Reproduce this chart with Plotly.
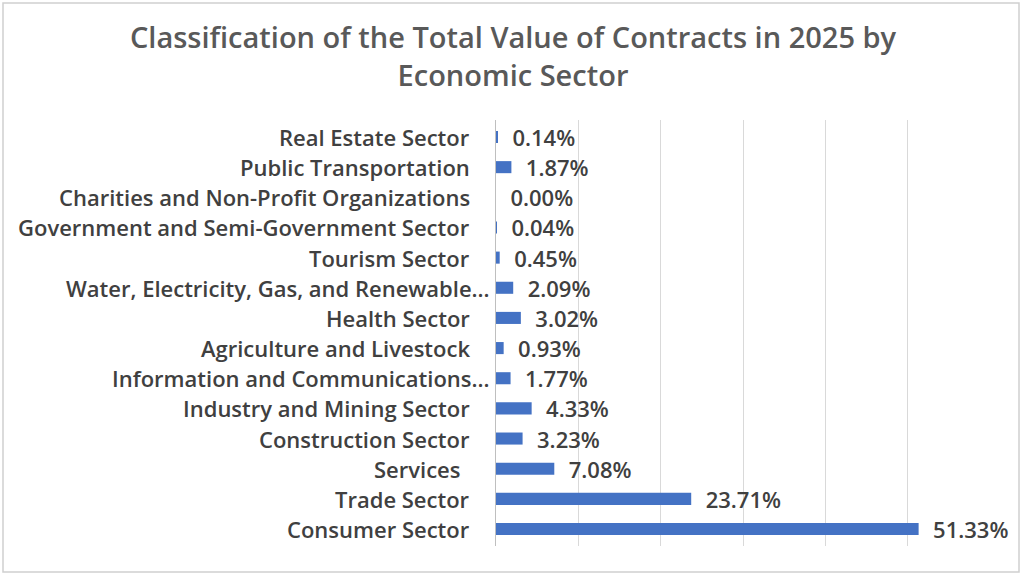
import plotly.graph_objects as go

# sectors listed top to bottom as in the source chart
sectors = [
    "Real Estate Sector",
    "Public Transportation",
    "Charities and Non-Profit Organizations",
    "Government and Semi-Government Sector",
    "Tourism Sector",
    "Water, Electricity, Gas, and Renewable...",
    "Health Sector",
    "Agriculture and Livestock",
    "Information and Communications...",
    "Industry and Mining Sector",
    "Construction Sector",
    "Services",
    "Trade Sector",
    "Consumer Sector",
]
share_pct = [0.14, 1.87, 0.00, 0.04, 0.45, 2.09, 3.02, 0.93, 1.77, 4.33, 3.23, 7.08, 23.71, 51.33]
grid_ticks = [0, 10, 20, 30, 40, 50, 60]

W, H = 1024, 576
ML, MR, MT, MB = 496, 34, 120, 30
FONT = "Open Sans"
TXT = "#404040"


def px_x(p):
    return (p - ML) / (W - ML - MR)


def px_y(p):
    return 1 - (p - MT) / (H - MT - MB)


fig = go.Figure()
fig.add_trace(go.Bar(
    y=sectors,
    x=share_pct,
    orientation="h",
    marker=dict(color="#4472C4", line=dict(width=0)),
    text=[f"\u00a0\u00a0{v:.2f}%" for v in share_pct],
    textposition="outside",
    constraintext="none",
    cliponaxis=False,
    textfont=dict(family=FONT, size=22, color=TXT, weight=600),
    hoverinfo="skip",
))

# category labels, truncated ones sit closer to the axis like in Excel
for s in sectors:
    fig.add_annotation(
        x=0, y=s, xref="x", yref="y",
        text=s, showarrow=False, xanchor="right",
        xshift=-4 if s.endswith("...") else (-34 if s == "Services" else -24),
        font=dict(family=FONT, size=22, color=TXT, weight=600),
    )

# light frame around the whole chart
fig.add_shape(type="rect", xref="paper", yref="paper",
              x0=px_x(3), x1=px_x(1019), y0=px_y(572), y1=px_y(3),
              line=dict(color="#d0d0d0", width=1.5), layer="below")

fig.update_layout(
    width=W, height=H,
    margin=dict(l=ML, r=MR, t=MT, b=MB),
    paper_bgcolor="white", plot_bgcolor="white",
    bargap=0.6,
    showlegend=False,
    title=dict(
        text="Classification of the Total Value of Contracts in 2025 by<br>Economic Sector",
        x=513 / W, xref="container", xanchor="center", y=0.916, yanchor="top",
        font=dict(family=FONT, size=29, color="#595959", weight=600),
    ),
)
fig.update_xaxes(range=[0, 60], tickvals=grid_ticks, showticklabels=False,
                 showgrid=True, gridcolor="#d9d9d9", gridwidth=1,
                 zeroline=False, showline=False)
fig.update_yaxes(autorange="reversed", showticklabels=False, showgrid=False,
                 showline=True, linecolor="#bfbfbf", linewidth=1, zeroline=False)

fig.write_html("out.html", config={"displayModeBar": False},
               post_script="document.body.style.margin='0';")
